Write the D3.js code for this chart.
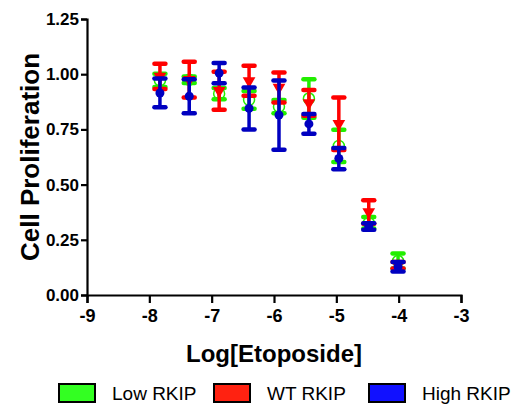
<!DOCTYPE html>
<html>
<head>
<meta charset="utf-8">
<script src="https://cdn.jsdelivr.net/npm/d3@7"></script>
<style>
  body { margin: 0; background: #fff; }
  text { font-family: "Liberation Sans", Arial, sans-serif; }
</style>
</head>
<body>
<div id="chart"></div>
<script>
// log concentrations
var logDose = [-7.83, -7.36, -6.88, -6.40, -5.92, -5.44, -4.96, -4.48, -4.01];

// series means and SDs
var lowMean = [0.972, 0.975, 0.912, 0.884, 0.853, 0.890, 0.675, 0.327, 0.154];
var lowSd   = [0.030, 0.015, 0.025, 0.040, 0.030, 0.087, 0.073, 0.026, 0.034];
var wtMean  = [0.990, 0.975, 0.925, 0.970, 0.940, 0.870, 0.776, 0.376, 0.135];
var wtSd    = [0.057, 0.081, 0.086, 0.068, 0.068, 0.058, 0.119, 0.053, 0.015];
var highMean = [0.915, 0.900, 1.005, 0.845, 0.815, 0.775, 0.618, 0.310, 0.128];
var highSd   = [0.065, 0.077, 0.046, 0.095, 0.157, 0.045, 0.048, 0.015, 0.022];

var seriesNames = ["Low RKIP", "WT RKIP", "High RKIP"];
var xTicks = [-9, -8, -7, -6, -5, -4, -3];
var yTicks = [0, 0.25, 0.5, 0.75, 1.0, 1.25];

var svgWidth = 515;
var svgHeight = 408;
var margin = { top: 19, left: 87, right: 54, bottom: 113 };
var width = svgWidth - margin.left - margin.right;
var height = svgHeight - margin.top - margin.bottom;

var svg = d3.select("#chart").append("svg")
    .attr("width", svgWidth)
    .attr("height", svgHeight);

var chartGroup = svg.append("g")
    .attr("transform", `translate(${margin.left}, ${margin.top})`);

// scales
var xScale = d3.scaleLinear().domain([-9, -3]).range([0, width]);
var yScale = d3.scaleLinear().domain([0, 1.25]).range([height, 0]);

// axes
var xAxis = d3.axisBottom(xScale).tickValues(xTicks).tickSize(8).tickPadding(6)
    .tickFormat(d => String(d));
var yAxis = d3.axisLeft(yScale).tickValues(yTicks).tickSize(6).tickPadding(2)
    .tickFormat(d3.format(".2f"));

var xg = chartGroup.append("g")
    .attr("transform", `translate(0, ${height})`)
    .call(xAxis);
var yg = chartGroup.append("g").call(yAxis);

[xg, yg].forEach(function(g) {
  g.attr("font-family", null).attr("font-size", null);
  g.select(".domain").attr("stroke", "#000").attr("stroke-width", 2.2);
  g.selectAll(".tick line").attr("stroke", "#000").attr("stroke-width", 2.2);
  g.selectAll(".tick text")
      .attr("fill", "#000")
      .style("font-weight", "bold")
      .style("font-size", "17px");
});
xg.selectAll(".tick text").style("font-size", "18px");

// axis titles
chartGroup.append("text")
    .style("font-weight", "bold").style("font-size", "24px")
    .attr("text-anchor", "middle")
    .attr("x", width / 2)
    .attr("y", height + 67)
    .text("Log[Etoposide]");

chartGroup.append("text")
    .style("font-weight", "bold").style("font-size", "26px")
    .attr("text-anchor", "middle")
    .attr("transform", "rotate(-90)")
    .attr("x", -height / 2)
    .attr("y", -margin.left + 39)
    .text("Cell Proliferation");

// build series for drawing
function makeSeries(means, sds) {
  return logDose.map(function(x, i) { return { x: x, m: means[i], sd: sds[i] }; });
}
var series = [
  { name: seriesNames[0], color: "#22ee00", data: makeSeries(lowMean, lowSd), shape: "openCircle" },
  { name: seriesNames[1], color: "#ff0000", data: makeSeries(wtMean, wtSd), shape: "triangle" },
  { name: seriesNames[2], color: "#0000c0", data: makeSeries(highMean, highSd), shape: "circle" }
];

var capW = 11;
series.forEach(function(s) {
  var g = chartGroup.append("g");
  var pts = g.selectAll("g").data(s.data).enter().append("g");

  // vertical bars
  pts.append("line")
      .attr("x1", d => xScale(d.x)).attr("x2", d => xScale(d.x))
      .attr("y1", d => yScale(d.m + d.sd)).attr("y2", d => yScale(d.m - d.sd))
      .attr("stroke", s.color).attr("stroke-width", 3.5);

  // caps
  [1, -1].forEach(function(sign) {
    pts.append("line")
        .attr("x1", d => xScale(d.x) - capW / 2).attr("x2", d => xScale(d.x) + capW / 2)
        .attr("y1", d => yScale(d.m + sign * d.sd)).attr("y2", d => yScale(d.m + sign * d.sd))
        .attr("stroke", s.color).attr("stroke-width", 4.5)
        .attr("stroke-linecap", "round");
  });

  // markers
  if (s.shape === "openCircle") {
    pts.append("circle")
        .attr("cx", d => xScale(d.x)).attr("cy", d => yScale(d.m))
        .attr("r", 5.5).attr("fill", "none")
        .attr("stroke", s.color).attr("stroke-width", 1.5);
  } else if (s.shape === "triangle") {
    pts.append("path")
        .attr("d", d3.symbol().type(d3.symbolTriangle).size(70))
        .attr("transform", d => `translate(${xScale(d.x)}, ${yScale(d.m)}) rotate(180)`)
        .attr("fill", s.color);
  } else {
    pts.append("circle")
        .attr("cx", d => xScale(d.x)).attr("cy", d => yScale(d.m))
        .attr("r", 4.5).attr("fill", s.color);
  }
});

// legend
var legendColors = ["#33ff22", "#ff2211", "#1111ff"];
var legendX = [59, 214, 369];
var legend = svg.selectAll(".legendItem").data(seriesNames).enter().append("g")
    .attr("transform", (d, i) => `translate(${legendX[i]}, 384)`);

legend.append("rect")
    .attr("width", 36).attr("height", 18)
    .attr("fill", (d, i) => legendColors[i])
    .attr("stroke", "#000").attr("stroke-width", 2);

legend.append("text")
    .style("font-size", "19px")
    .attr("x", 53).attr("y", 16)
    .text(d => d);
</script>
</body>
</html>
